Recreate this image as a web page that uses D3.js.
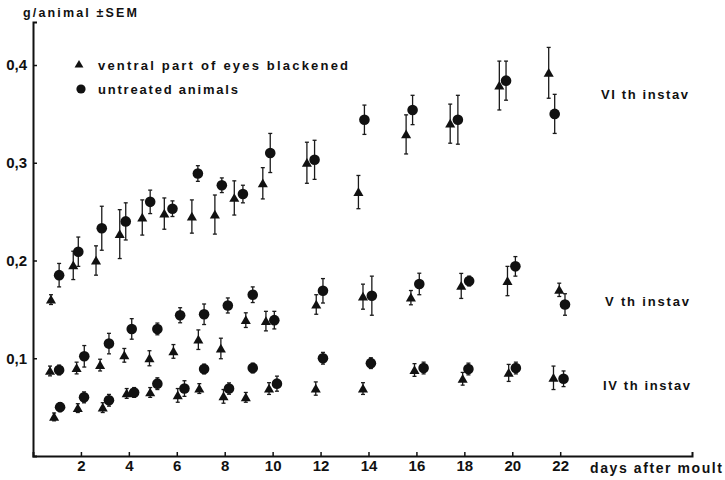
<!DOCTYPE html>
<html><head><meta charset="utf-8">
<script src="https://cdn.jsdelivr.net/npm/d3@7"></script>
<style>body{margin:0;background:#fff}svg text{font-family:"Liberation Sans",Arial,Helvetica,sans-serif;font-weight:bold;fill:#111}</style>
</head><body><svg id="c" width="725" height="480"></svg>
<script>
const xTicks = [2,4,6,8,10,12,14,16,18,20,22];
const yTicks = [0.1,0.2,0.3,0.4];
const yTickLabels = ["0,1","0,2","0,3","0,4"];
const legendLabels = ["ventral part of eyes blackened","untreated animals"];
const instarLabels = ["VI th instav","V th instav","IV th instav"];
const instarLabelValues = [0.37,0.159,0.073];

// VI instar
const viTriDay = [0.75,1.68,2.63,3.62,4.56,5.48,6.63,7.59,8.40,9.59,11.43,13.58,15.57,17.41,19.46,21.52];
const viTriVal = [0.160,0.195,0.200,0.227,0.244,0.248,0.245,0.247,0.264,0.279,0.300,0.270,0.329,0.340,0.379,0.392];
const viTriSem = [0.005,0.0145,0.015,0.025,0.018,0.016,0.017,0.020,0.0175,0.016,0.021,0.017,0.020,0.020,0.025,0.026];
const viCirDay = [1.09,1.89,2.87,3.87,4.89,5.82,6.88,7.88,8.76,9.90,11.75,13.83,15.84,17.73,19.74,21.77];
const viCirVal = [0.185,0.209,0.233,0.240,0.260,0.253,0.289,0.277,0.268,0.310,0.303,0.344,0.354,0.344,0.384,0.350];
const viCirSem = [0.012,0.015,0.0225,0.019,0.012,0.008,0.008,0.0075,0.009,0.020,0.020,0.015,0.015,0.025,0.020,0.020];
// V instar
const vTriDay = [0.71,1.82,2.80,3.81,4.86,5.86,6.90,7.84,8.88,9.72,11.82,13.77,15.77,17.87,19.80,21.96];
const vTriVal = [0.087,0.090,0.093,0.103,0.100,0.107,0.119,0.110,0.139,0.138,0.155,0.163,0.162,0.174,0.179,0.170];
const vTriSem = [0.005,0.006,0.006,0.007,0.0077,0.007,0.010,0.0105,0.0075,0.010,0.010,0.0128,0.0073,0.0128,0.015,0.0068];
const vCirDay = [1.09,2.14,3.17,4.12,5.19,6.14,7.14,8.13,9.17,10.07,12.10,14.14,16.12,18.20,20.13,22.20];
const vCirVal = [0.088,0.102,0.115,0.130,0.130,0.144,0.145,0.154,0.165,0.139,0.169,0.164,0.176,0.179,0.194,0.155];
const vCirSem = [0.005,0.011,0.0105,0.0105,0.006,0.0077,0.0105,0.0077,0.008,0.009,0.0125,0.020,0.011,0.005,0.010,0.011];
// IV instar
const ivTriDay = [0.88,1.87,2.91,3.91,4.89,6.04,6.94,7.95,8.88,9.85,11.80,13.77,15.92,17.93,19.85,21.72];
const ivTriVal = [0.040,0.049,0.0495,0.064,0.065,0.062,0.069,0.061,0.060,0.069,0.069,0.069,0.088,0.079,0.085,0.080];
const ivTriSem = [0.004,0.0045,0.005,0.005,0.005,0.007,0.005,0.007,0.005,0.006,0.0068,0.006,0.0065,0.0065,0.0087,0.012];
const ivCirDay = [1.13,2.13,3.17,4.22,5.19,6.32,7.14,8.18,9.17,10.18,12.10,14.10,16.30,18.17,20.15,22.14];
const ivCirVal = [0.050,0.060,0.057,0.065,0.074,0.069,0.089,0.069,0.090,0.074,0.100,0.095,0.090,0.089,0.090,0.079];
const ivCirSem = [0.0046,0.0056,0.006,0.005,0.006,0.008,0.005,0.0058,0.005,0.0077,0.006,0.0055,0.006,0.006,0.006,0.008];

const series = [
  {shape:"tri", day:viTriDay, val:viTriVal, sem:viTriSem},
  {shape:"cir", day:viCirDay, val:viCirVal, sem:viCirSem},
  {shape:"tri", day:vTriDay, val:vTriVal, sem:vTriSem},
  {shape:"cir", day:vCirDay, val:vCirVal, sem:vCirSem},
  {shape:"tri", day:ivTriDay, val:ivTriVal, sem:ivTriSem},
  {shape:"cir", day:ivCirDay, val:ivCirVal, sem:ivCirSem}
];

const svg = d3.select("#c");
const x = d3.scaleLinear().domain([0, 27.5]).range([33, 692]);
const y = d3.scaleLinear().domain([0, 0.444]).range([456, 22]);

// axes
const xAxis = svg.append("g").attr("transform", `translate(0,${y(0)})`)
  .call(d3.axisBottom(x).tickValues(xTicks).tickSize(-4).tickPadding(4).tickFormat(d3.format("d")));
const yAxis = svg.append("g").attr("transform", `translate(${x(0)},0)`)
  .call(d3.axisLeft(y).tickValues(yTicks).tickSize(-4).tickPadding(6).tickFormat((d,i)=>yTickLabels[i]));
[xAxis, yAxis].forEach(g => {
  g.select(".domain").attr("stroke","#111").attr("stroke-width",2);
  g.selectAll(".tick line").attr("stroke","#111").attr("stroke-width",1.5);
  g.selectAll(".tick text").style("font-size","15px").style("font-family",'"Liberation Sans",Arial,sans-serif').style("font-weight","bold").attr("fill","#111");
});

const tri = d3.symbol(d3.symbolTriangle, 44)();
const triSmall = d3.symbol(d3.symbolTriangle, 34)();

// error bars + markers
series.forEach(s => {
  const g = svg.append("g");
  const pts = s.day.map((d,i)=>({d, v:s.val[i], e:s.sem[i]}));
  const eb = g.selectAll(".eb").data(pts).enter().append("g").attr("stroke","#1a1a1a").attr("stroke-width",1.3);
  eb.append("line").attr("x1",p=>x(p.d)).attr("x2",p=>x(p.d)).attr("y1",p=>y(p.v+p.e)).attr("y2",p=>y(p.v-p.e));
  eb.append("line").attr("x1",p=>x(p.d)-2).attr("x2",p=>x(p.d)+2).attr("y1",p=>y(p.v+p.e)).attr("y2",p=>y(p.v+p.e));
  eb.append("line").attr("x1",p=>x(p.d)-2).attr("x2",p=>x(p.d)+2).attr("y1",p=>y(p.v-p.e)).attr("y2",p=>y(p.v-p.e));
  if (s.shape === "tri") {
    g.selectAll(".m").data(pts).enter().append("path").attr("d", tri)
      .attr("transform", p=>`translate(${x(p.d)},${y(p.v)+1})`).attr("fill","#111");
  } else {
    g.selectAll(".m").data(pts).enter().append("circle")
      .attr("cx", p=>x(p.d)).attr("cy", p=>y(p.v)).attr("r",5.3).attr("fill","#111");
  }
});

// y label
svg.append("text").attr("x",23).attr("y",17).style("font-size","12.5px").attr("textLength",114).attr("lengthAdjust","spacing").text("g/animal ±SEM");

// legend
svg.append("path").attr("d", triSmall).attr("transform","translate(79,65)").attr("fill","#111");
svg.append("circle").attr("cx",81).attr("cy",89).attr("r",4.6).attr("fill","#111");
svg.append("text").attr("x",98).attr("y",70).style("font-size","13px").attr("textLength",250).attr("lengthAdjust","spacing").text(legendLabels[0]);
svg.append("text").attr("x",98).attr("y",94).style("font-size","13px").attr("textLength",140).attr("lengthAdjust","spacing").text(legendLabels[1]);

// instar labels
const instarX = [601,605,603];
const instarW = [87,84,87];
instarLabels.forEach((t,i)=>{
  svg.append("text").attr("x",instarX[i]).attr("y",y(instarLabelValues[i])+5).style("font-size","13px")
    .attr("textLength",instarW[i]).attr("lengthAdjust","spacing").text(t);
});

// x label
svg.append("text").attr("x",590).attr("y",473).style("font-size","14px").attr("textLength",132).attr("lengthAdjust","spacing").text("days after moult");
</script></body></html>
